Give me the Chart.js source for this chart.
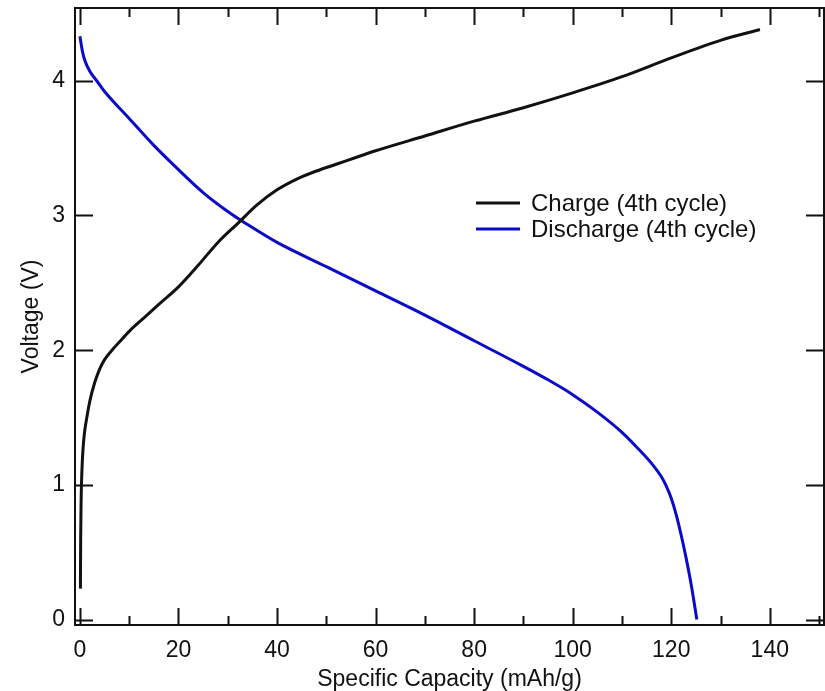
<!DOCTYPE html>
<html>
<head>
<meta charset="utf-8">
<script src="https://cdn.jsdelivr.net/npm/chart.js@4.4.1/dist/chart.umd.min.js"></script>
<style>
  html, body { margin: 0; padding: 0; background: #fff; }
  #wrap { width: 825px; height: 691px; }
</style>
</head>
<body>
<div id="wrap"><canvas id="capChart"></canvas></div>
<script>
// Charge curve, 4th cycle
const chargeCap = [0.1, 0.15, 0.25, 0.4, 0.6, 0.9, 1.4, 2, 3, 4, 5, 6.5, 8, 10, 13, 16, 20, 24, 28, 32, 36, 40, 44, 48, 52, 56, 60, 70, 80, 90, 100, 110, 120, 130, 138];
const chargeV   = [0.23, 0.6, 0.9, 1.1, 1.25, 1.38, 1.5, 1.62, 1.76, 1.86, 1.93, 2.0, 2.06, 2.14, 2.24, 2.34, 2.47, 2.63, 2.8, 2.94, 3.08, 3.19, 3.27, 3.33, 3.38, 3.43, 3.48, 3.59, 3.70, 3.80, 3.91, 4.03, 4.17, 4.3, 4.38];

// Discharge curve, 4th cycle
const dischargeCap = [0, 0.5, 1, 2, 3.4, 5, 10, 15, 20, 25, 30, 35, 40, 50, 60, 70, 80, 90, 95, 100, 105, 110, 113, 116, 118, 119, 120, 121, 122, 123, 124, 125.2];
const dischargeV   = [4.33, 4.22, 4.15, 4.07, 4.0, 3.92, 3.72, 3.52, 3.34, 3.17, 3.03, 2.91, 2.8, 2.62, 2.44, 2.26, 2.07, 1.88, 1.78, 1.67, 1.54, 1.39, 1.28, 1.16, 1.06, 0.99, 0.9, 0.78, 0.63, 0.46, 0.27, 0.0];

const xTicks = [0, 20, 40, 60, 80, 100, 120, 140];
const xMinorTicks = [10, 30, 50, 70, 90, 110, 130, 150];
const yTicks = [0, 1, 2, 3, 4];

const FONT = 'Liberation Sans, Arial, sans-serif';
const FONT_SIZE = 23;

function toPoints(xs, ys) {
  return xs.map((x, i) => ({ x: x, y: ys[i] }));
}

// Box frame with inward ticks on all four sides, plus an in-plot legend
const framePlugin = {
  id: 'frame',
  afterDraw(chart) {
    const { ctx, chartArea: a, scales } = chart;
    const xs = scales.x, ys = scales.y;
    ctx.save();
    ctx.strokeStyle = '#111';
    ctx.lineWidth = 2;
    ctx.strokeRect(a.left, a.top, a.right - a.left, a.bottom - a.top);

    ctx.beginPath();
    xTicks.forEach(v => {
      const px = Math.round(xs.getPixelForValue(v)) + 0.5;
      ctx.moveTo(px, a.bottom); ctx.lineTo(px, a.bottom - 17);
      ctx.moveTo(px, a.top); ctx.lineTo(px, a.top + 17);
    });
    xMinorTicks.forEach(v => {
      const px = Math.round(xs.getPixelForValue(v)) + 0.5;
      ctx.moveTo(px, a.bottom); ctx.lineTo(px, a.bottom - 9);
      ctx.moveTo(px, a.top); ctx.lineTo(px, a.top + 9);
    });
    yTicks.forEach(v => {
      const py = Math.round(ys.getPixelForValue(v)) + 0.5;
      ctx.moveTo(a.left, py); ctx.lineTo(a.left + 18, py);
      ctx.moveTo(a.right, py); ctx.lineTo(a.right - 18, py);
    });
    ctx.stroke();

    // legend
    ctx.font = '24px ' + FONT;
    ctx.textBaseline = 'middle';
    ctx.textAlign = 'left';
    const lx = 476, ly = 203, gap = 26;
    chart.data.datasets.forEach((ds, i) => {
      const y = ly + i * gap;
      ctx.strokeStyle = ds.borderColor;
      ctx.lineWidth = 3;
      ctx.beginPath();
      ctx.moveTo(lx, y); ctx.lineTo(lx + 44, y);
      ctx.stroke();
      ctx.fillStyle = '#111';
      ctx.fillText(ds.label, lx + 55, y + 1);
    });
    ctx.restore();
  }
};

new Chart(document.getElementById('capChart').getContext('2d'), {
  type: 'line',
  data: {
    datasets: [{
      label: 'Charge (4th cycle)',
      data: toPoints(chargeCap, chargeV),
      borderColor: '#111111',
      borderWidth: 3,
      pointRadius: 0,
      cubicInterpolationMode: 'monotone',
      fill: false
    }, {
      label: 'Discharge (4th cycle)',
      data: toPoints(dischargeCap, dischargeV),
      borderColor: '#0a0ac8',
      borderWidth: 3,
      pointRadius: 0,
      cubicInterpolationMode: 'monotone',
      fill: false
    }]
  },
  options: {
    responsive: true,
    maintainAspectRatio: false,
    animation: false,
    layout: { padding: { top: 8, right: 1, left: 0, bottom: 0 } },
    plugins: {
      legend: { display: false },
      tooltip: { enabled: false }
    },
    scales: {
      x: {
        type: 'linear',
        min: -1,
        max: 151,
        afterBuildTicks: s => { s.ticks = xTicks.map(v => ({ value: v })); },
        afterFit: s => { s.height = 66; s.paddingLeft = 0; s.paddingRight = 0; },
        grid: { display: false, drawTicks: false },
        border: { display: false },
        ticks: { color: '#111', font: { family: FONT, size: FONT_SIZE }, padding: 12, maxRotation: 0 },
        title: {
          display: true,
          text: 'Specific Capacity (mAh/g)',
          color: '#111',
          font: { family: FONT, size: FONT_SIZE },
          padding: { top: 0, bottom: -2 }
        }
      },
      y: {
        type: 'linear',
        min: -0.04,
        max: 4.54,
        afterBuildTicks: s => { s.ticks = yTicks.map(v => ({ value: v })); },
        afterFit: s => { s.width = 75; s.paddingTop = 0; s.paddingBottom = 0; },
        grid: { display: false, drawTicks: false },
        border: { display: false },
        ticks: { color: '#111', font: { family: FONT, size: FONT_SIZE }, padding: 10 },
        title: {
          display: true,
          text: 'Voltage (V)',
          color: '#111',
          font: { family: FONT, size: FONT_SIZE },
          padding: { top: 18, bottom: 0 }
        }
      }
    }
  },
  plugins: [framePlugin]
});
</script>
</body>
</html>
